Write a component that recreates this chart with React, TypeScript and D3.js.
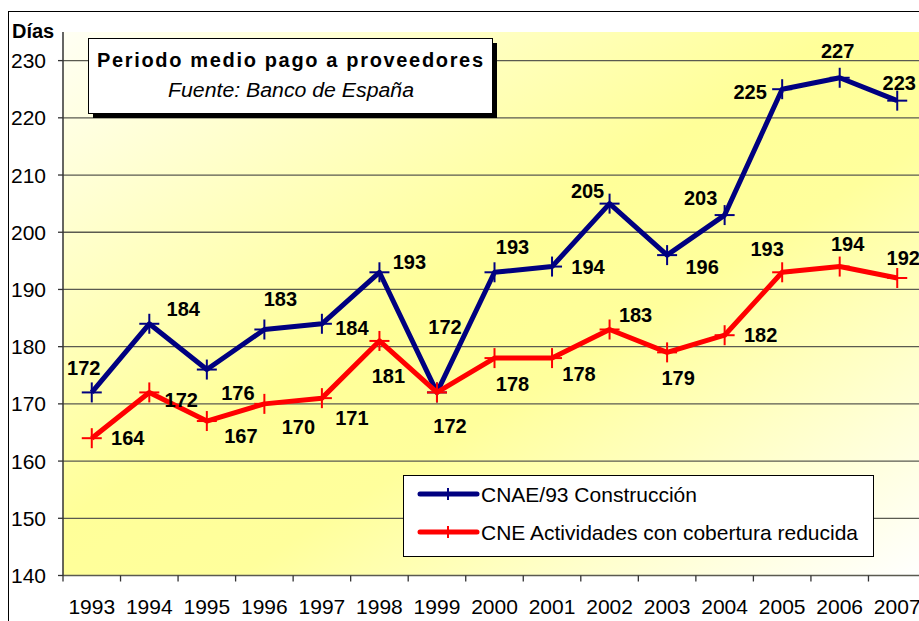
import React from "react";
import * as d3 from "d3";

// data
const years = ["1993", "1994", "1995", "1996", "1997", "1998", "1999", "2000", "2001", "2002", "2003", "2004", "2005", "2006", "2007"];
const construccion = [172, 184, 176, 183, 184, 193, 172, 193, 194, 205, 196, 203, 225, 227, 223];
const coberturaReducida = [164, 172, 167, 170, 171, 181, 172, 178, 178, 183, 179, 182, 193, 194, 192];
const yTicks = [140, 150, 160, 170, 180, 190, 200, 210, 220, 230];
const seriesNames = ["CNAE/93 Construcción", "CNE Actividades con cobertura reducida"];

// where each value label sits relative to its point (dx, dy)
const blueLabelPos = [[-8, -24], [34, -15], [31, 23], [16, -30], [30, 4], [30, -10], [8, -65], [18, -25], [36, 0], [-22, -13], [35, 12], [-24, -17], [-32, 3], [-2, -27], [2, -18]];
const redLabelPos = [[36, 0], [32, 8], [34, 15], [34, 23], [30, 20], [9, 35], [13, 34], [18, 26], [27, 16], [26, -14], [11, 26], [36, 0], [-15, -23], [8, -23], [6, -20]];

const W = 919;
const H = 621;
const plot = { left: 63, top: 32, right: 926, bottom: 575.5 };
const BLUE = "#000080";
const RED = "#FF0000";
const FONT = "Liberation Sans, Arial, sans-serif";

function Cross({ x, y, color }: { x: number; y: number; color: string }) {
  return (
    <g stroke={color} strokeWidth={2}>
      <line x1={x - 10} x2={x + 10} y1={y} y2={y} />
      <line x1={x} x2={x} y1={y - 10} y2={y + 10} />
    </g>
  );
}

function Series({ values, color, labels, xs, ys }: any) {
  const pts: [number, number][] = values.map((v: number, i: number) => [xs(years[i]) + xs.bandwidth() / 2, ys(v)]);
  const path = d3.line()(pts) || "";
  return (
    <g>
      <path d={path} fill="none" stroke={color} strokeWidth={5} strokeLinejoin="round" />
      {pts.map((p, i) => (
        <Cross key={i} x={p[0]} y={p[1]} color={color} />
      ))}
      {pts.map((p, i) => (
        <text
          key={"l" + i}
          x={p[0] + labels[i][0]}
          y={p[1] + labels[i][1]}
          textAnchor="middle"
          dominantBaseline="central"
          fontWeight="bold"
          fontSize={20}
          fill="#000"
        >
          {values[i]}
        </text>
      ))}
    </g>
  );
}

export default function App() {
  const x = d3.scaleBand<string>().domain(years).range([plot.left, plot.right]).padding(0);
  const y = d3.scaleLinear().domain([140, 235]).range([plot.bottom, plot.top]);

  return (
    <svg
      width={W}
      height={H}
      style={{ position: "fixed", left: 0, top: 0, background: "#fff", fontFamily: FONT }}
    >
      <defs>
        <linearGradient id="bg" x1="0" y1="0" x2="1" y2="1">
          <stop offset="0" stopColor="#FFFFF4" />
          <stop offset="0.45" stopColor="#FFFF99" />
          <stop offset="0.6" stopColor="#FFFF9C" />
          <stop offset="1" stopColor="#FFFFFF" />
        </linearGradient>
      </defs>

      {/* chart area frame */}
      <rect x={8.5} y={11.5} width={W + 20} height={H + 20} fill="#fff" stroke="#000" strokeWidth={1} />

      {/* plot area */}
      <rect x={plot.left} y={plot.top} width={plot.right - plot.left} height={plot.bottom - plot.top} fill="url(#bg)" />

      {/* gridlines */}
      {yTicks.map((t) => (
        <line key={t} x1={plot.left} x2={plot.right} y1={y(t)} y2={y(t)} stroke="#5a5a50" strokeWidth={1.3} />
      ))}

      {/* y axis */}
      <line x1={plot.left} x2={plot.left} y1={plot.top} y2={plot.bottom} stroke="#333" strokeWidth={1.5} />
      {yTicks.map((t) => (
        <g key={"yt" + t}>
          <line x1={plot.left - 5} x2={plot.left} y1={y(t)} y2={y(t)} stroke="#333" strokeWidth={1.3} />
          <text x={46} y={y(t)} textAnchor="end" dominantBaseline="central" fontSize={21} fill="#000">
            {t}
          </text>
        </g>
      ))}
      <text x={12} y={38} fontSize={20} fontWeight="bold" fill="#000">
        Días
      </text>

      {/* x axis */}
      {years.map((yr) => (
        <g key={yr}>
          <line x1={x(yr)!} x2={x(yr)!} y1={plot.bottom} y2={plot.bottom + 6} stroke="#333" strokeWidth={1.3} />
          <text x={x(yr)! + x.bandwidth() / 2} y={614} textAnchor="middle" fontSize={21} fill="#000">
            {yr}
          </text>
        </g>
      ))}

      <Series values={construccion} color={BLUE} labels={blueLabelPos} xs={x} ys={y} />
      <Series values={coberturaReducida} color={RED} labels={redLabelPos} xs={x} ys={y} />

      {/* title box */}
      <rect x={93} y={43} width={404} height={75} fill="#000" />
      <rect x={88.5} y={38.5} width={404} height={75} fill="#fff" stroke="#000" strokeWidth={1} />
      <text x={290} y={67} textAnchor="middle" fontSize={20} fontWeight="bold" textLength={386} lengthAdjust="spacing">
        Periodo medio pago a proveedores
      </text>
      <text x={291} y={97} textAnchor="middle" fontSize={20} fontStyle="italic" textLength={246} lengthAdjust="spacingAndGlyphs">
        Fuente: Banco de España
      </text>

      {/* legend */}
      <rect x={403.5} y={475.5} width={470} height={81} fill="#fff" stroke="#000" strokeWidth={1} />
      {[BLUE, RED].map((c, i) => {
        const ly = 494 + i * 38;
        return (
          <g key={c}>
            <line x1={420} x2={477} y1={ly} y2={ly} stroke={c} strokeWidth={5} strokeLinecap="round" />
            <line x1={448} x2={448} y1={ly - 6} y2={ly + 6} stroke={c} strokeWidth={2} />
            <text x={481} y={ly} dominantBaseline="central" fontSize={21} fill="#000">
              {seriesNames[i]}
            </text>
          </g>
        );
      })}
    </svg>
  );
}
